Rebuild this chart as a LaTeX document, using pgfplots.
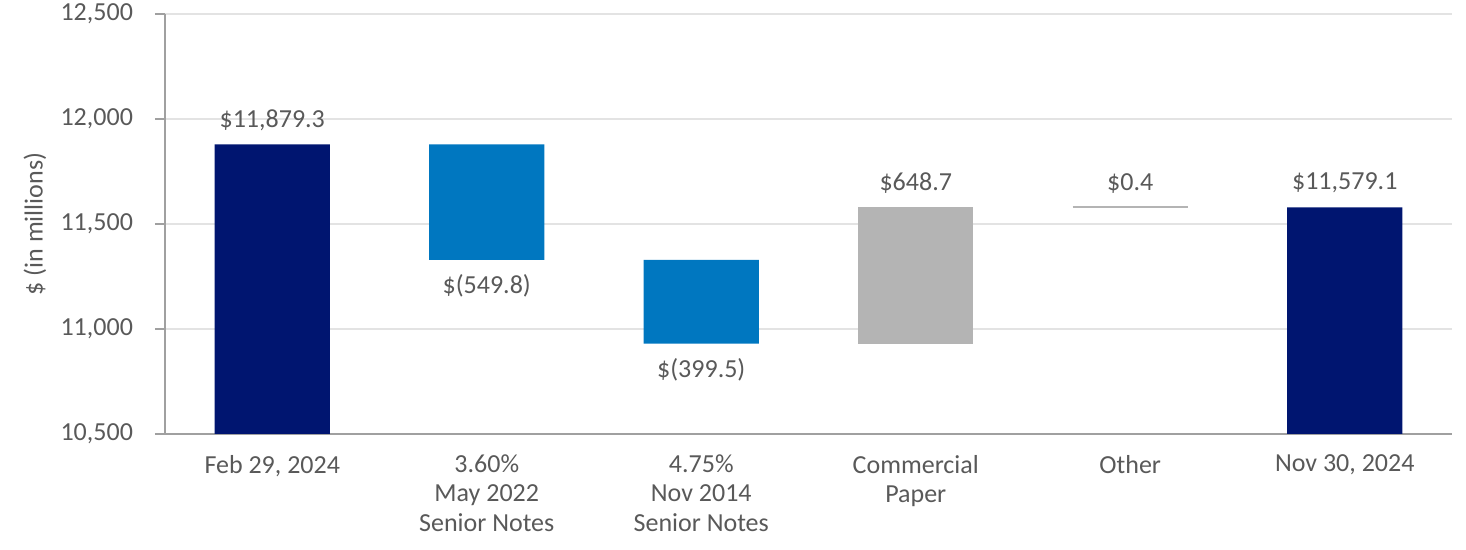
\documentclass[border=0pt]{standalone}
\usepackage{fontspec}
\setmainfont{Carlito}
\usepackage{pgfplots}
\pgfplotsset{compat=1.18}
\definecolor{navy}{HTML}{001570}
\definecolor{midblue}{HTML}{0077C0}
\definecolor{lightgray}{HTML}{B4B4B4}
\definecolor{txt}{HTML}{595959}
\definecolor{axgray}{HTML}{A0A0A0}
\definecolor{gridgray}{HTML}{E3E3E3}
\begin{document}
\begin{tikzpicture}
\useasboundingbox (0,0) rectangle (733pt,275pt);
\pgfplotsset{wf/.style={
    scale only axis, width=643.5pt, height=210pt,
    at={(82.5pt,58pt)}, anchor=south west,
    xmin=-0.5, xmax=5.5, ymin=10500, ymax=12500,
}}
\tikzset{lbl/.style={text=txt, font=\fontsize{13}{14.6}\selectfont}}
\begin{axis}[wf,
    ybar stacked, bar width=0.537,
    axis x line*=bottom, axis y line*=left,
    axis line style={axgray, line width=0.9pt},
    ytick={10500,11000,11500,12000,12500},
    scaled y ticks=false,
    ymajorgrids, grid style={gridgray, line width=0.8pt},
    tick align=outside, major tick length=5pt,
    ytick style={axgray, line width=0.9pt},
    xtick style={draw=none},
    xtick={0,...,5},
    xticklabels={{Feb 29, 2024}, {3.60\%\\May 2022\\Senior Notes}, {4.75\%\\Nov 2014\\Senior Notes}, {Commercial\\Paper}, {Other}, {Nov 30, 2024}},
    xticklabel style={align=center, lbl, yshift=-2pt},
    yticklabel style={lbl, xshift=-7.5pt, /pgf/number format/1000 sep={,}, /pgf/number format/assume math mode=true},
    ylabel={\$ (in millions)},
    ylabel style={at={(axis description cs:-0.101,0.5)}, anchor=center, lbl},
]
% invisible base
\addplot[fill=none, draw=none] coordinates {(0,0) (1,11329.5) (2,10930.0) (3,10930.0) (4,0) (5,0)};
\addplot[fill=navy, draw=none] coordinates {(0,11879.3) (1,0) (2,0) (3,0) (4,0) (5,11579.1)};
\addplot[fill=midblue, draw=none] coordinates {(0,0) (1,549.8) (2,399.5) (3,0) (4,0) (5,0)};
\addplot[fill=lightgray, draw=none] coordinates {(0,0) (1,0) (2,0) (3,648.7) (4,0) (5,0)};

\node[lbl] at (axis cs:0,11995) {\$11,879.3};
\node[lbl] at (axis cs:1,11205) {\$(549.8)};
\node[lbl] at (axis cs:2,10805) {\$(399.5)};
\node[lbl] at (axis cs:3,11695) {\$648.7};
\node[lbl] at (axis cs:4,11695) {\$0.4};
\node[lbl] at (axis cs:5,11695) {\$11,579.1};
\end{axis}
\begin{axis}[wf, hide axis]
\addplot[lightgray, line width=1pt] coordinates {(3.7315,11578.9) (4.2685,11578.9)};
\end{axis}
\end{tikzpicture}
\end{document}
